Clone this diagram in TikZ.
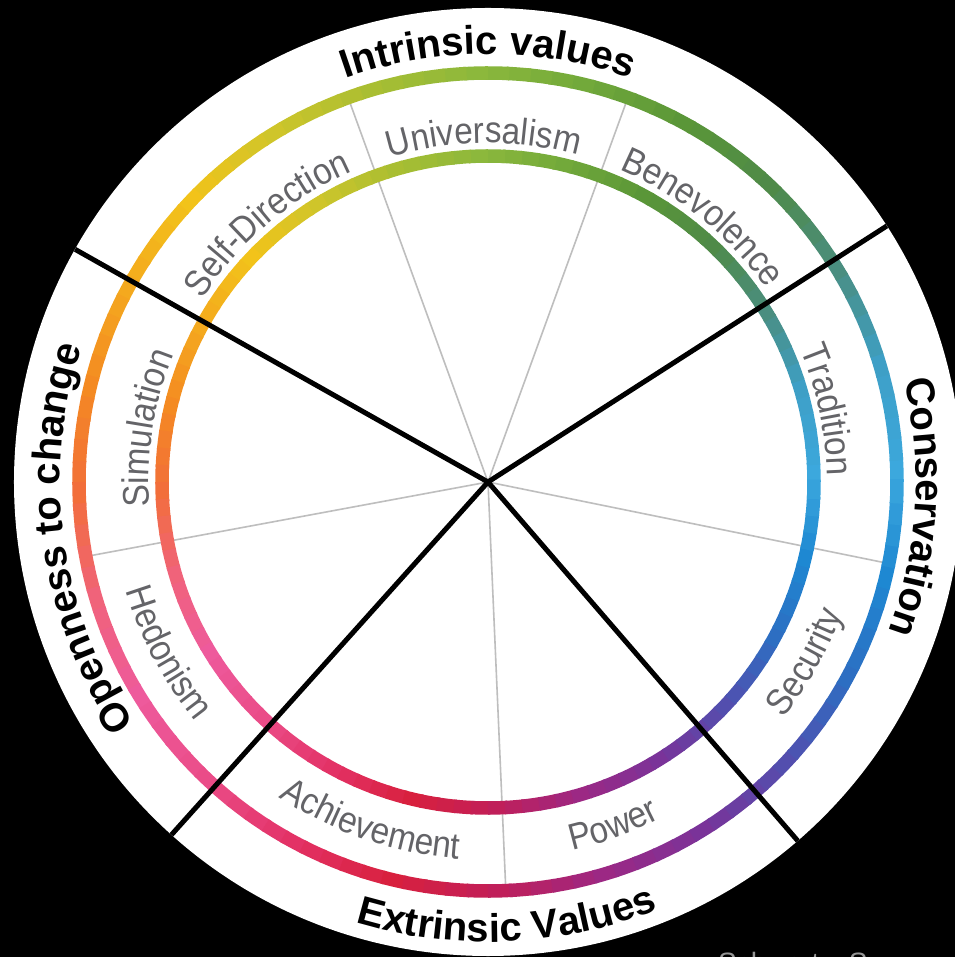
\documentclass[tikz,border=0pt]{standalone}
\usepackage{fontspec}
\setmainfont{Liberation Sans}
\newfontfamily\valuefont[FakeStretch=0.9]{Liberation Sans}
\usepackage{xcolor}
\usepackage{tikz}
\usetikzlibrary{decorations.text}
\definecolor{valgray}{RGB}{100,100,104}
\definecolor{spokegray}{RGB}{190,190,190}
\definecolor{creditgray}{RGB}{150,150,150}
% colour stops of the wheel, every 15 degrees from 0
\definecolor{w0}{HTML}{3CA8DD}
\definecolor{w1}{HTML}{3E9FC6}
\definecolor{w2}{HTML}{4A8E80}
\definecolor{w3}{HTML}{4F8A48}
\definecolor{w4}{HTML}{5A9638}
\definecolor{w5}{HTML}{72A93A}
\definecolor{w6}{HTML}{8CB83C}
\definecolor{w7}{HTML}{A9BE32}
\definecolor{w8}{HTML}{CFC52A}
\definecolor{w9}{HTML}{F2C31A}
\definecolor{w10}{HTML}{F4A91E}
\definecolor{w11}{HTML}{F48A22}
\definecolor{w12}{HTML}{F26E3A}
\definecolor{w13}{HTML}{F0637A}
\definecolor{w14}{HTML}{EE5A9C}
\definecolor{w15}{HTML}{EA4C88}
\definecolor{w16}{HTML}{E33266}
\definecolor{w17}{HTML}{D8203E}
\definecolor{w18}{HTML}{C01F5A}
\definecolor{w19}{HTML}{9C2884}
\definecolor{w20}{HTML}{7A3399}
\definecolor{w21}{HTML}{534EAE}
\definecolor{w22}{HTML}{2D6EC2}
\definecolor{w23}{HTML}{1E88D2}

\tikzset{
  ring/.style={line width=13.5pt},
  spoke/.style={spokegray, line width=1.6pt},
  divider/.style={black, line width=5pt},
  grouptext/.style={decorate, decoration={text along path, text align=center,
    text={|\bfseries\fontsize{40}{45}\selectfont|#1}}},
  valuetext/.style={decorate, decoration={text along path, text align=center,
    text color=valgray, text={|\valuefont\fontsize{37}{42}\selectfont|#1}}}
}

\begin{document}
\begin{tikzpicture}[x=1pt, y=1pt]
  \clip (-488,-475) rectangle (467,482);
  \fill[black] (-488,-475) rectangle (467,482);
  \coordinate (c) at (0,0);
  \fill[white] (c) circle[radius=474];

  % thin spokes between the ten values
  \foreach \a in {110,70,-11.5,190.5,272.5}
    \draw[spoke] (c) -- (\a:404);

  % the two colour rings
  \foreach \r in {409,326}{
    \foreach \i in {0,...,23}{
      \pgfmathtruncatemacro\j{mod(\i+1,24)}
      \foreach \t in {0,...,4}{
        \pgfmathtruncatemacro\p{\t*20}
        \pgfmathsetmacro\s{\i*15+\t*3}
        \draw[ring, draw=w\j!\p!w\i] (\s:\r) arc[start angle=\s, end angle=\s+3.4, radius=\r];
      }
    }
  }

  % the four groups
  \foreach \a in {150.6,32.7,-49.2,228.1}
    \draw[divider] (c) -- (\a:474);

  % values, read clockwise
  \path[valuetext=Self-Direction] (175.5:339) arc[start angle=175.5, end angle=85.5, radius=339];
  \path[valuetext=Universalism] (135.7:339) arc[start angle=135.7, end angle=45.7, radius=339];
  \path[valuetext=Benevolence] (96:339) arc[start angle=96, end angle=6, radius=339];
  \path[valuetext=Tradition] (57:339) arc[start angle=57, end angle=-33, radius=339];
  \path[valuetext=Simulation] (216:339) arc[start angle=216, end angle=126, radius=339];
  % values, read anticlockwise
  \path[valuetext=Security] (-74.5:378) arc[start angle=-74.5, end angle=15.5, radius=378];
  \path[valuetext=Power] (-115:378) arc[start angle=-115, end angle=-25, radius=378];
  \path[valuetext=Achievement] (-154:378) arc[start angle=-154, end angle=-64, radius=378];
  \path[valuetext=Hedonism] (163:378) arc[start angle=163, end angle=253, radius=378];

  % group names
  \path[grouptext=Intrinsic values] (140:428) arc[start angle=140, end angle=40, radius=428];
  \path[grouptext=Conservation] (46.6:428) arc[start angle=46.6, end angle=-53.4, radius=428];
  \path[grouptext=Openness to change] (240:428) arc[start angle=240, end angle=136, radius=428];
  \path[grouptext=Extrinsic Values] (-137.5:460) arc[start angle=-137.5, end angle=-37.5, radius=460];

  \node[anchor=base west, inner sep=0, text=creditgray, font=\fontsize{28}{32}\selectfont]
    (credit) at (230,-490) {Schwartz, S.};
\end{tikzpicture}
\end{document}
